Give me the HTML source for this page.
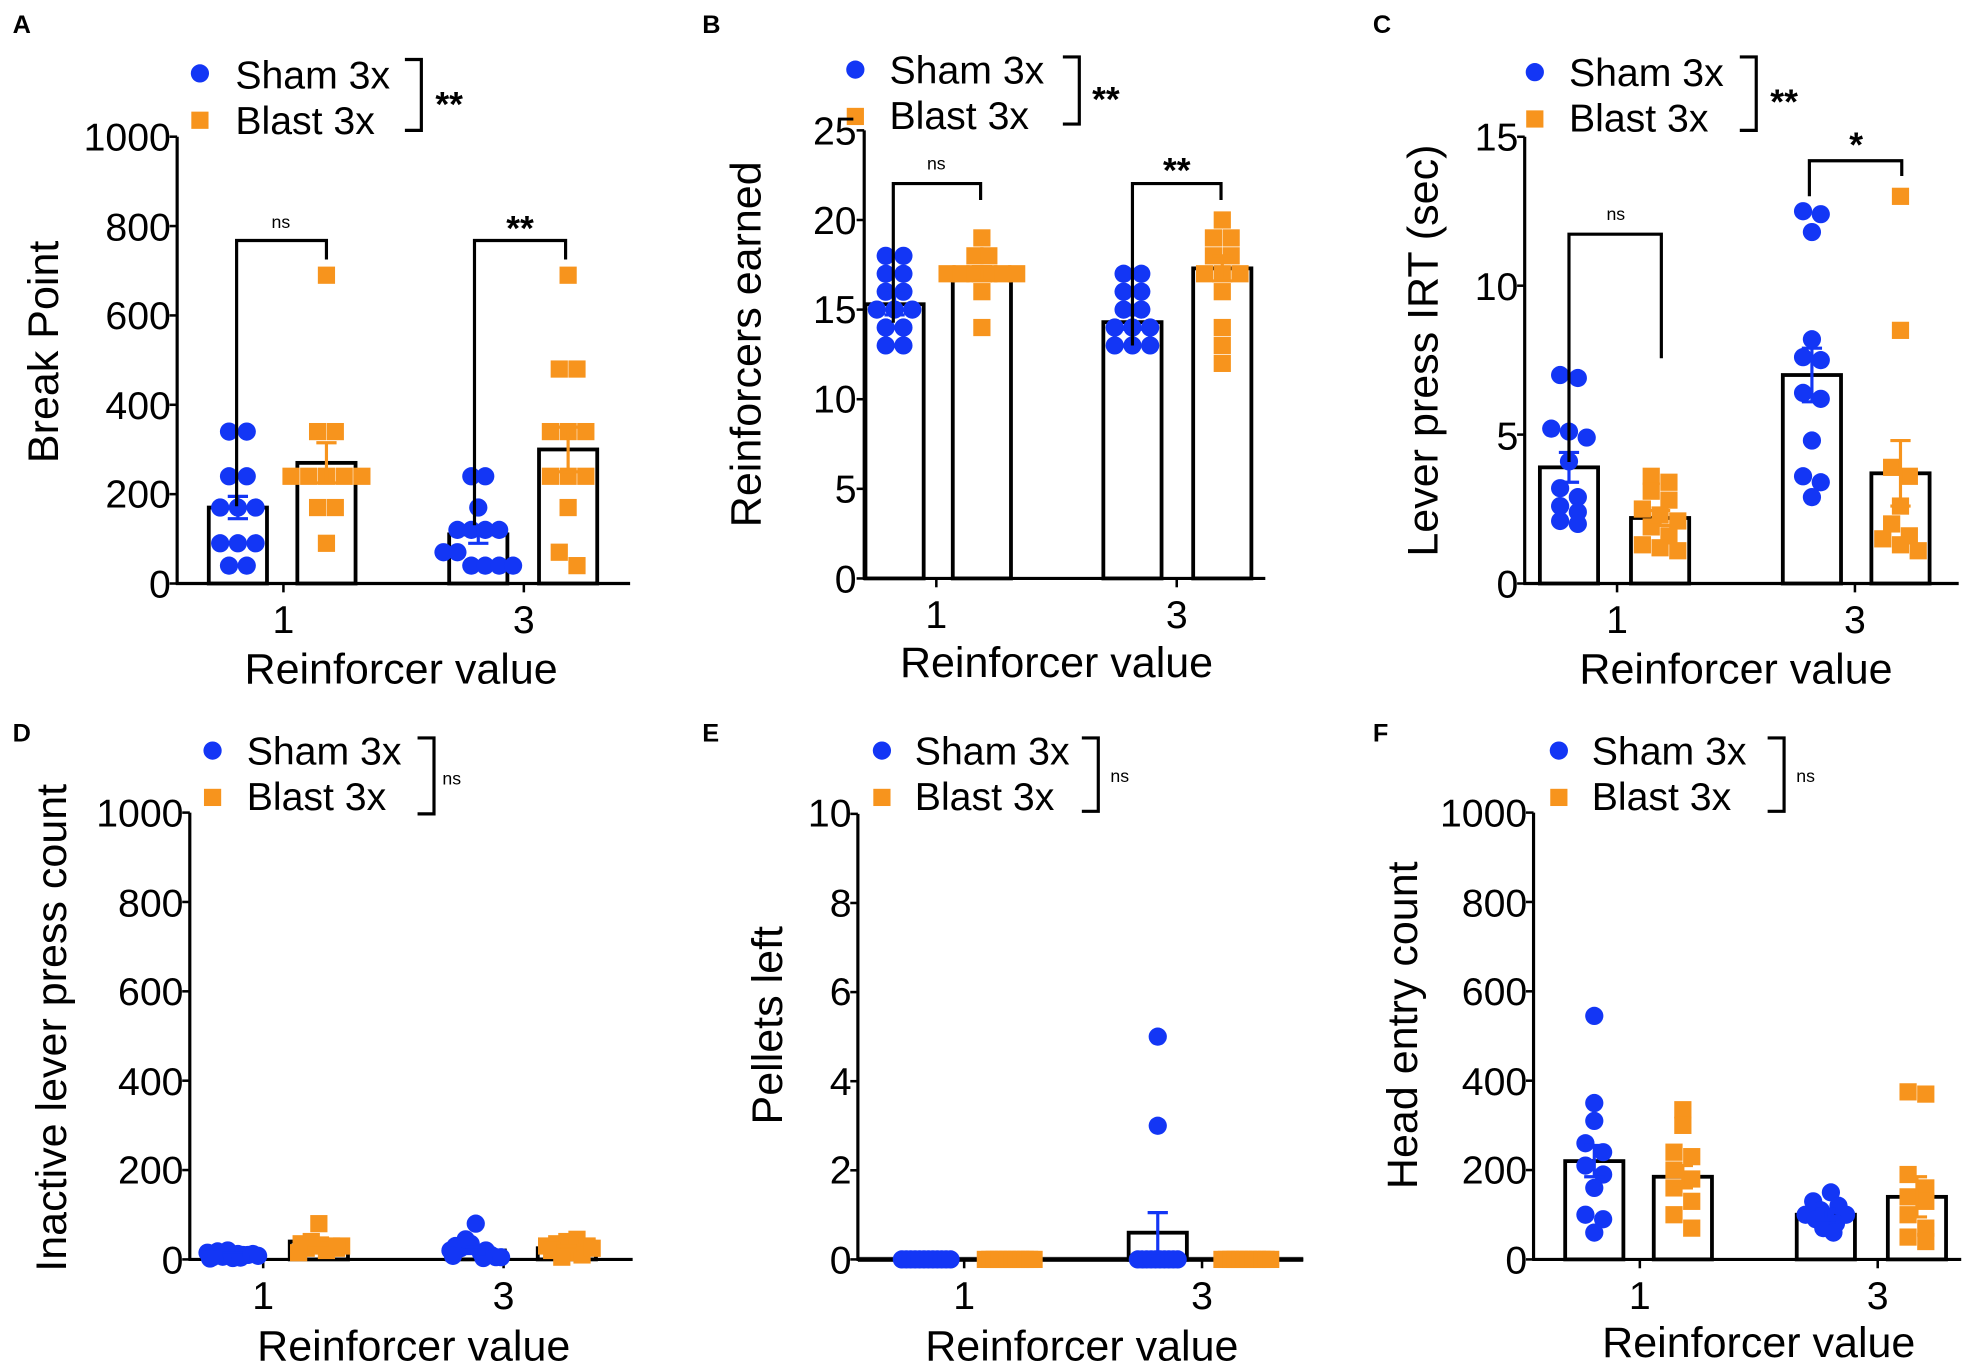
<!DOCTYPE html>
<html><head><meta charset="utf-8"><style>
html,body{margin:0;padding:0;background:#fff;}
svg{display:block;font-family:"Liberation Sans",Arial,sans-serif;}
.t{font-size:31px;fill:#000;}
.ttl{font-size:34px;fill:#000;}
.lg{font-size:31px;fill:#000;}
.pl{font-size:20px;font-weight:bold;fill:#000;}
</style></head><body>
<svg id="s" width="1984" height="1367" viewBox="0 0 1568 1080" preserveAspectRatio="none">
<rect width="1568" height="1080" fill="#fff"/>
<g id="shapes"></g>
<text class="pl" x="10" y="26">A</text>
<text class="pl" x="555" y="26">B</text>
<text class="pl" x="1085" y="26">C</text>
<text class="pl" x="10" y="586">D</text>
<text class="pl" x="555" y="586">E</text>
<text class="pl" x="1085" y="586">F</text>

<!-- A -->
<g class="t" text-anchor="end">
<text x="135" y="472">0</text><text x="135" y="401">200</text><text x="135" y="331">400</text><text x="135" y="260">600</text><text x="135" y="190">800</text><text x="135" y="119">1000</text>
</g>
<text class="t" x="224" y="500" text-anchor="middle">1</text><text class="t" x="414" y="500" text-anchor="middle">3</text>
<text class="ttl" x="317" y="540" text-anchor="middle">Reinforcer value</text>
<text class="ttl" transform="translate(46,278) rotate(-90)" text-anchor="middle">Break Point</text>
<text class="lg" x="186" y="70">Sham 3x</text><text class="lg" x="186" y="106">Blast 3x</text>
<text x="222" y="180" font-size="14" text-anchor="middle">ns</text>
<text x="411" y="190" font-size="28" font-weight="bold" text-anchor="middle">**</text>
<text x="355" y="92" font-size="28" font-weight="bold" text-anchor="middle">**</text>

<!-- B -->
<g class="t" text-anchor="end">
<text x="677" y="468">0</text><text x="677" y="397">5</text><text x="677" y="326">10</text><text x="677" y="255">15</text><text x="677" y="185">20</text><text x="677" y="114">25</text>
</g>
<text class="t" x="740" y="496" text-anchor="middle">1</text><text class="t" x="930" y="496" text-anchor="middle">3</text>
<text class="ttl" x="835" y="535" text-anchor="middle">Reinforcer value</text>
<text class="ttl" transform="translate(601,272) rotate(-90)" text-anchor="middle">Reinforcers earned</text>
<text class="lg" x="703" y="66">Sham 3x</text><text class="lg" x="703" y="102">Blast 3x</text>
<text x="740" y="134" font-size="14" text-anchor="middle">ns</text>
<text x="930" y="144" font-size="28" font-weight="bold" text-anchor="middle">**</text>
<text x="874" y="88" font-size="28" font-weight="bold" text-anchor="middle">**</text>

<!-- C -->
<g class="t" text-anchor="end">
<text x="1200" y="472">0</text><text x="1200" y="355">5</text><text x="1200" y="237">10</text><text x="1200" y="119">15</text>
</g>
<text class="t" x="1278" y="500" text-anchor="middle">1</text><text class="t" x="1466" y="500" text-anchor="middle">3</text>
<text class="ttl" x="1372" y="540" text-anchor="middle">Reinforcer value</text>
<text class="ttl" transform="translate(1136,277) rotate(-90)" text-anchor="middle">Lever press IRT (sec)</text>
<text class="lg" x="1240" y="68">Sham 3x</text><text class="lg" x="1240" y="104">Blast 3x</text>
<text x="1277" y="174" font-size="14" text-anchor="middle">ns</text>
<text x="1467" y="124" font-size="28" font-weight="bold" text-anchor="middle">*</text>
<text x="1410" y="90" font-size="28" font-weight="bold" text-anchor="middle">**</text>

<!-- D -->
<g class="t" text-anchor="end">
<text x="145" y="1006">0</text><text x="145" y="935">200</text><text x="145" y="865">400</text><text x="145" y="794">600</text><text x="145" y="724">800</text><text x="145" y="653">1000</text>
</g>
<text class="t" x="208" y="1034" text-anchor="middle">1</text><text class="t" x="398" y="1034" text-anchor="middle">3</text>
<text class="ttl" x="327" y="1075" text-anchor="middle">Reinforcer value</text>
<text class="ttl" transform="translate(52,812) rotate(-90)" text-anchor="middle">Inactive lever press count</text>
<text class="lg" x="195" y="604">Sham 3x</text><text class="lg" x="195" y="640">Blast 3x</text>
<text x="357" y="620" font-size="14" text-anchor="middle">ns</text>

<!-- E -->
<g class="t" text-anchor="end">
<text x="673" y="1006">0</text><text x="673" y="935">2</text><text x="673" y="865">4</text><text x="673" y="794">6</text><text x="673" y="724">8</text><text x="673" y="653">10</text>
</g>
<text class="t" x="762" y="1034" text-anchor="middle">1</text><text class="t" x="950" y="1034" text-anchor="middle">3</text>
<text class="ttl" x="855" y="1075" text-anchor="middle">Reinforcer value</text>
<text class="ttl" transform="translate(618,810) rotate(-90)" text-anchor="middle">Pellets left</text>
<text class="lg" x="723" y="604">Sham 3x</text><text class="lg" x="723" y="640">Blast 3x</text>
<text x="885" y="618" font-size="14" text-anchor="middle">ns</text>

<!-- F -->
<g class="t" text-anchor="end">
<text x="1207" y="1006">0</text><text x="1207" y="935">200</text><text x="1207" y="865">400</text><text x="1207" y="794">600</text><text x="1207" y="724">800</text><text x="1207" y="653">1000</text>
</g>
<text class="t" x="1296" y="1034" text-anchor="middle">1</text><text class="t" x="1484" y="1034" text-anchor="middle">3</text>
<text class="ttl" x="1390" y="1072" text-anchor="middle">Reinforcer value</text>
<text class="ttl" transform="translate(1120,810) rotate(-90)" text-anchor="middle">Head entry count</text>
<text class="lg" x="1258" y="604">Sham 3x</text><text class="lg" x="1258" y="640">Blast 3x</text>
<text x="1427" y="618" font-size="14" text-anchor="middle">ns</text>
</svg>
<script>
(function(){
var NS="http://www.w3.org/2000/svg",g=document.getElementById("shapes");
function el(t,a){var e=document.createElementNS(NS,t);for(var k in a)e.setAttribute(k,a[k]);g.appendChild(e);return e;}
function line(x1,y1,x2,y2,c,w){el("line",{x1:x1,y1:y1,x2:x2,y2:y2,stroke:c||"#000","stroke-width":w||2.5});}
function poly(p){el("polyline",{points:p,fill:"none",stroke:"#000","stroke-width":2.5});}
var BL="#1336f5",OR="#f7941d";
function dot(x,y){el("circle",{cx:x,cy:y,r:7.2,fill:BL});}
function sq(x,y){el("rect",{x:x-6.8,y:y-6.8,width:13.6,height:13.6,fill:OR});}
function panel(P){
  line(P.ax,P.top,P.ax,P.y0+1);
  line(P.ax-1,P.y0,P.xe,P.y0);
  P.ticks.forEach(function(v){var y=P.y0-v*P.k;line(P.ax-6,y,P.ax,y,"#000",2);});
  P.xt.forEach(function(x){line(x,P.y0,x,P.y0+7,"#000",2);});
  P.groups.forEach(function(G){
    var hw=23,mt=P.y0-G.m*P.k;
    if(G.m*P.k>1)el("rect",{x:G.cx-hw,y:mt,width:hw*2,height:P.y0-mt,fill:"none",stroke:"#000","stroke-width":3});
    if(G.xo){G.p.forEach(function(v,i){var y=P.y0-v*P.k;(G.b?dot:sq)(G.cx+G.xo[i],y);});}
    else{
    var pts=G.p.slice().sort(function(a,b){return b-a;}),rows=[];
    pts.forEach(function(v){var y=P.y0-v*P.k;var r=rows.length?rows[rows.length-1]:null;
      if(r&&Math.abs(r.y-y)<(G.tol||11)){r.n.push(y);}else rows.push({y:y,n:[y]});});
    rows.forEach(function(r){var n=r.n.length,sp=G.sp||14;
      r.n.forEach(function(y,i){var x=G.cx+(i-(n-1)/2)*sp;(G.b?dot:sq)(x,y);});});
    }
    if(G.s){var c=G.b?BL:OR,y1=P.y0-(G.m+G.s)*P.k,y2=P.y0-Math.max(G.m-G.s,0)*P.k;
      line(G.cx,y1,G.cx,y2,c,2.5);line(G.cx-8,y1,G.cx+8,y1,c,2.5);line(G.cx-8,y2,G.cx+8,y2,c,2.5);}
  });
}
panel({ax:140,top:108,y0:461,k:0.353,xe:498,ticks:[0,200,400,600,800,1000],xt:[224,414],groups:[
 {cx:188,b:1,m:170,s:25,p:[340,340,240,240,170,170,170,90,90,90,40,40]},
 {cx:258,b:0,m:270,s:45,p:[690,340,340,240,240,240,240,240,170,170,90]},
 {cx:378,b:1,m:110,s:20,sp:11,p:[240,240,170,120,120,120,120,70,70,40,40,40,40]},
 {cx:449,b:0,m:300,s:50,p:[690,480,480,340,340,340,240,240,240,170,70,40]}]});
panel({ax:683,top:103,y0:457,k:14.16,xe:1000,ticks:[0,5,10,15,20,25],xt:[740,930],groups:[
 {cx:707,b:1,m:15.3,s:0.6,p:[18,18,17,17,16,16,15,15,15,14,14,13,13]},
 {cx:776,b:0,m:17,s:0.4,sp:11,p:[19,18,18,17,17,17,17,17,17,16,14]},
 {cx:895,b:1,m:14.3,s:0.4,p:[17,17,16,16,15,15,14,14,14,13,13,13]},
 {cx:966,b:0,m:17.3,s:0.7,p:[20,19,19,18,18,17,17,17,16,14,13,12]}]});
panel({ax:1205,top:108,y0:461,k:23.53,xe:1548,ticks:[0,5,10,15],xt:[1278,1466],groups:[
 {cx:1240,b:1,m:3.9,s:0.5,p:[7,6.9,5.2,5.1,4.9,4.1,3.2,2.9,2.6,2.4,2.1,2.0]},
 {cx:1312,b:0,m:2.2,s:0.25,p:[3.6,3.4,3.1,2.8,2.5,2.3,2.1,1.9,1.6,1.3,1.2,1.1]},
 {cx:1432,b:1,m:7.0,s:0.9,p:[12.5,12.4,11.8,8.2,7.6,7.5,6.4,6.2,4.8,3.6,3.4,2.9]},
 {cx:1502,b:0,m:3.7,s:1.1,p:[13,8.5,3.9,3.6,2.6,2.0,1.6,1.5,1.3,1.1]}]});
var xo=[-20,-12,-4,4,12,20,-16,-8,0,8,16,-18,6];
panel({ax:150,top:642,y0:995,k:0.353,xe:500,ticks:[0,200,400,600,800,1000],xt:[208,398],groups:[
 {cx:184,b:1,m:12,s:3,xo:xo,p:[15,18,20,12,10,8,5,6,3,10,12,2,4]},
 {cx:252,b:0,m:40,s:8,xo:[-14,-6,2,10,18,-10,6,0,14,-16],p:[35,40,30,30,30,25,20,80,25,15]},
 {cx:376,b:1,m:20,s:7,xo:xo,p:[20,25,35,15,10,5,30,45,80,20,5,8,3]},
 {cx:448,b:0,m:25,s:5,xo:[-16,-8,0,8,16,-12,4,12,-4,20],p:[30,35,40,45,30,20,15,10,5,25]}]});
line(678,995,1030,995,"#333",4);
panel({ax:678,top:643,y0:995,k:35.2,xe:1030,ticks:[0,2,4,6,8,10],xt:[762,950],groups:[
 {cx:732,b:1,m:0,s:0,sp:3.5,p:[0,0,0,0,0,0,0,0,0,0,0,0]},
 {cx:798,b:0,m:0,s:0,sp:3.5,p:[0,0,0,0,0,0,0,0,0,0,0,0]},
 {cx:915,b:1,m:0.6,s:0.45,sp:3.5,p:[5,3,0,0,0,0,0,0,0,0,0,0]},
 {cx:985,b:0,m:0,s:0,sp:3.5,p:[0,0,0,0,0,0,0,0,0,0,0,0]}]});
panel({ax:1212,top:642,y0:995,k:0.353,xe:1550,ticks:[0,200,400,600,800,1000],xt:[1296,1484],groups:[
 {cx:1260,b:1,m:220,s:35,p:[545,350,310,260,240,210,190,160,100,90,60]},
 {cx:1330,b:0,m:185,s:25,p:[335,300,240,230,200,180,160,130,100,70]},
 {cx:1443,b:1,m:100,s:12,xo:[4,-10,10,-4,-16,16,0,-8,8,-2,6],p:[150,130,120,110,100,100,95,90,80,70,60]},
 {cx:1515,b:0,m:140,s:45,p:[375,370,190,160,140,130,100,70,50,40]}]});
[[158,58,320,47,103],[676,55,840,45,98],[1213,57,1375,45,103],[168,593,330,583,643],[697,593,855,583,641],[1232,593,1397,583,641]].forEach(function(L){
 dot(L[0],L[1]);sq(L[0],L[1]+37);poly((L[2])+","+L[3]+" "+(L[2]+13)+","+L[3]+" "+(L[2]+13)+","+L[4]+" "+L[2]+","+L[4]);});
poly("187,400 187,190 258,190 258,205");
poly("375,415 375,190 447,190 447,205");
poly("706,255 706,145 775,145 775,158");
poly("895,273 895,145 965,145 965,158");
poly("1240,365 1240,185 1313,185 1313,283");
poly("1430,155 1430,127 1503,127 1503,139");
})();
</script>
</body></html>
